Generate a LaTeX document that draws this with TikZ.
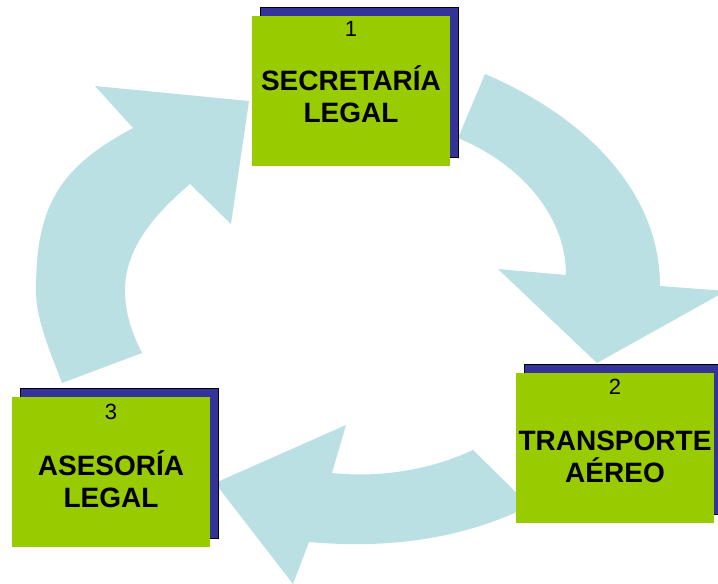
\documentclass[tikz,border=0pt]{standalone}
\usepackage{fontspec}
\setmainfont{Liberation Sans}
\usetikzlibrary{backgrounds,shadows}
\definecolor{stagegreen}{HTML}{99CC00}
\definecolor{shadowblue}{HTML}{333399}
\definecolor{flowblue}{HTML}{BBE0E3}
\tikzset{
  stage/.style={rectangle,fill=stagegreen,minimum width=198pt,minimum height=150pt,inner sep=0pt,
    copy shadow={shadow xshift=8pt,shadow yshift=9pt,fill=shadowblue}},
  stagenum/.style={anchor=base,inner sep=0pt,font=\fontsize{22}{26}\selectfont},
  stagename/.style={anchor=base,inner sep=0pt,align=center,font=\fontsize{28}{32}\selectfont\bfseries},
  flow/.style={fill=flowblue}
}
\begin{document}
\begin{tikzpicture}[x=1pt,y=-1pt]
  \useasboundingbox (0,0) rectangle (718,584);
  \node[stage] (secretaria) at (351,91) {};
  \node[stage] (transporte) at (615,448) {};
  \node[stage] (asesoria) at (111,472) {};
  \node[stagenum] (num1) at ([yshift=-21pt]secretaria.north) {1};
  \node[stagenum] (num2) at ([yshift=-22pt]transporte.north) {2};
  \node[stagenum] (num3) at ([yshift=-23pt]asesoria.north) {3};
  \node[stagename] (name1) at ([yshift=-107pt]secretaria.north) {SECRETARÍA\\LEGAL};
  \node[stagename] (name2) at ([yshift=-110pt]transporte.north) {TRANSPORTE\\AÉREO};
  \node[stagename] (name3) at ([yshift=-111pt]asesoria.north) {ASESORÍA\\LEGAL};
  \begin{pgfonlayer}{background}
    % secretaria -> transporte
    \fill[flow] (485,74) .. controls (577,113) and (660,186) .. (660,286) -- (726,291) -- (597,363)
      -- (498,269) -- (566,275) .. controls (566,212) and (516,162) .. (458,138) -- cycle;
    % transporte -> asesoria
    \fill[flow] (473,450) -- (530,506) .. controls (470,535) and (400,550) .. (309,542) -- (293,584)
      -- (215,483) -- (346,425) -- (332,473) .. controls (380,478) and (430,470) .. (473,450) -- cycle;
    % asesoria -> secretaria
    \fill[flow] (62,383) .. controls (50,351) and (36,320) .. (36,290) .. controls (36,205) and (60,167) .. (133,128)
      -- (95,86) -- (249,101) -- (231,224) -- (190,184) .. controls (157,212) and (125,247) .. (125,290)
      .. controls (125,315) and (133,335) .. (142,353) -- cycle;
  \end{pgfonlayer}
\end{tikzpicture}
\end{document}
